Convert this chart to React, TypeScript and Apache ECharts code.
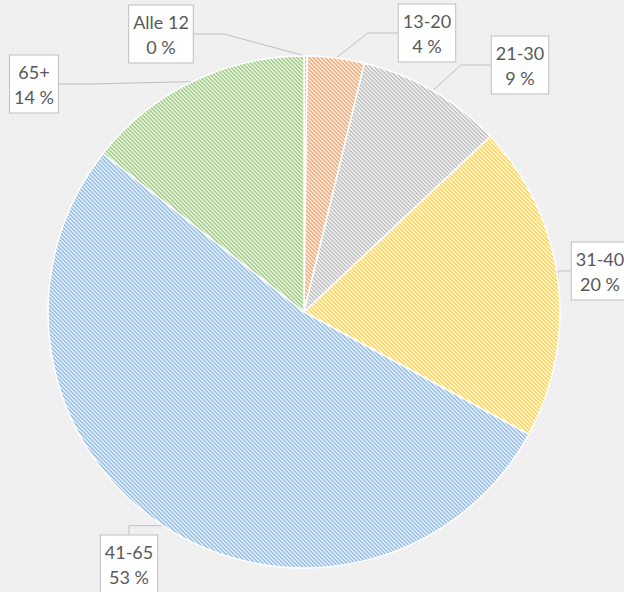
import React, { useEffect, useRef } from "react";
import * as echarts from "echarts";

const categories = ["Alle 12", "13-20", "21-30", "31-40", "41-65", "65+"];
const values = [1, 18, 46, 100, 264, 72];
const lineColors = ["#F4B183", "#F4B183", "#C4C4C4", "#FFD966", "#9DC3E6", "#A9D08E"];
const fillColors = ["#FBE5D6", "#FBE5D6", "#EDEDED", "#FFF2CC", "#DEEBF7", "#E2EFDA"];

// label box centres (layout only)
const labelCentres: [number, number][] = [
  [161, 34],
  [427, 33],
  [520, 65],
  [600, 271],
  [129, 564],
  [34, 84],
];

function makePattern(line: string, bg: string): HTMLCanvasElement {
  const c = document.createElement("canvas");
  c.width = 4;
  c.height = 4;
  const ctx = c.getContext("2d")!;
  ctx.fillStyle = bg;
  ctx.fillRect(0, 0, 4, 4);
  ctx.fillStyle = line;
  for (let i = 0; i < 4; i++) {
    ctx.fillRect(i, i, 1, 1);
    ctx.fillRect(i, (i + 1) % 4, 1, 1);
  }
  return c;
}

export default function App() {
  const ref = useRef<HTMLDivElement>(null);
  useEffect(() => {
    if (!ref.current) return;
    const chart = echarts.init(ref.current, null, { renderer: "svg" });
    const data = categories.map((name, i) => ({
      name,
      value: values[i],
      itemStyle: {
        color: { image: makePattern(lineColors[i], fillColors[i]), repeat: "repeat" } as any,
      },
    }));
    chart.setOption({
      animation: false,
      backgroundColor: "#F0F0F0",
      series: [
        {
          type: "pie",
          center: [304, 312],
          radius: 256,
          startAngle: 90,
          clockwise: true,
          avoidLabelOverlap: false,
          itemStyle: { borderColor: "#FFFFFF", borderWidth: 1.5 },
          label: {
            show: true,
            formatter: (p: any) => `${p.name}\n${Math.round(p.percent)} %`,
            backgroundColor: "#FFFFFF",
            borderColor: "#BFBFBF",
            borderWidth: 1,
            padding: [4, 4, 3, 4],
            lineHeight: 25,
            fontSize: 18,
            color: "#595959",
            fontFamily: "Lato",
            align: "center",
          },
          labelLine: {
            show: true,
            lineStyle: { color: "#BFBFBF", width: 1 },
          },
          labelLayout: (params: any) => {
            const c = labelCentres[params.dataIndex];
            return { x: c[0], y: c[1], align: "center", verticalAlign: "middle" };
          },
          emphasis: { disabled: true },
          data,
        },
      ],
    });
    return () => chart.dispose();
  }, []);
  return (
    <div
      ref={ref}
      style={{ position: "fixed", left: 0, top: 0, width: 624, height: 592 }}
    />
  );
}
